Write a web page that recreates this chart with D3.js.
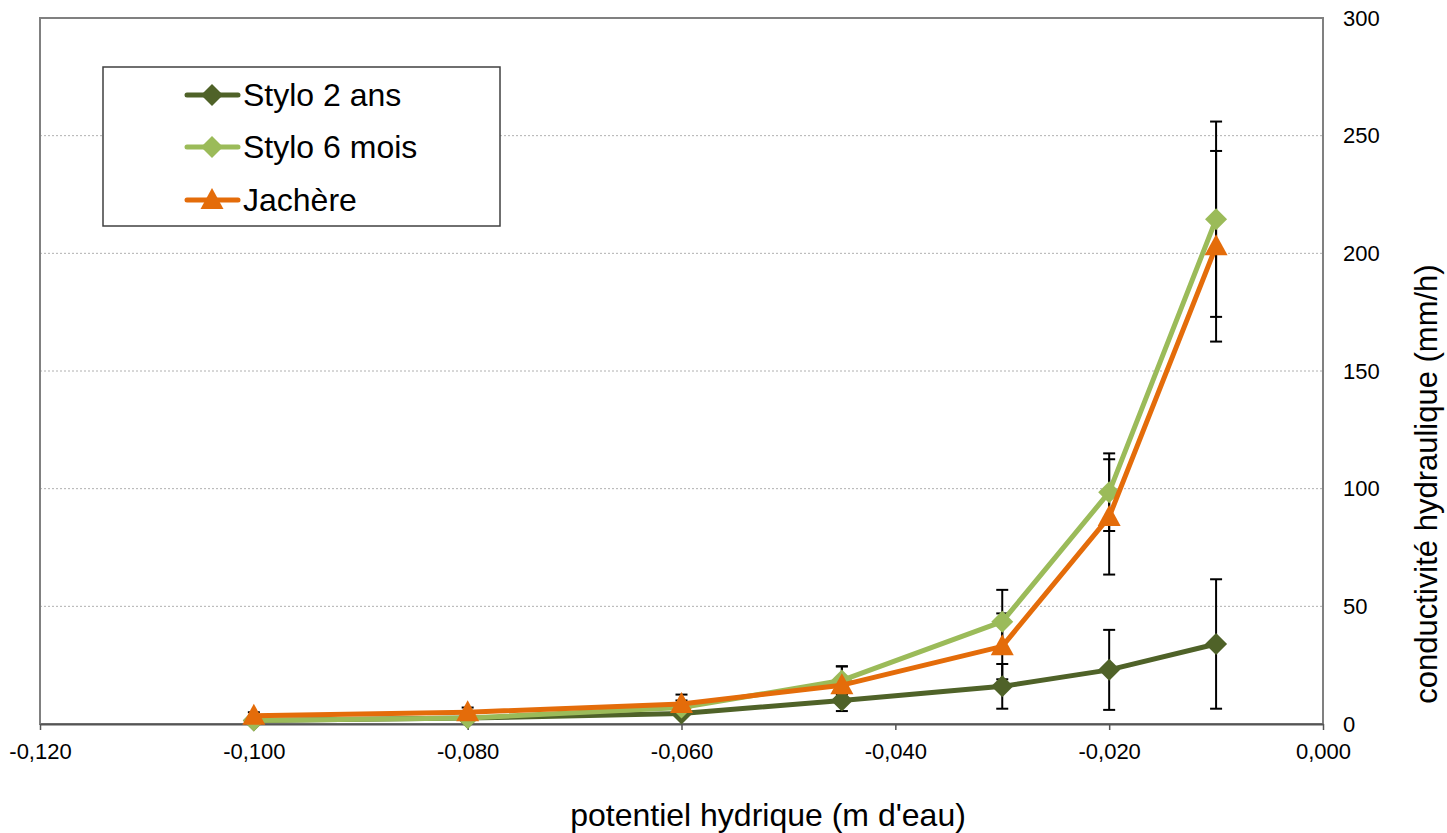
<!DOCTYPE html>
<html>
<head>
<meta charset="utf-8">
<script src="https://cdn.jsdelivr.net/npm/d3@7"></script>
<style>
  body { margin: 0; background: #fff; }
  text { font-family: "Liberation Sans", Arial, sans-serif; }
</style>
</head>
<body>
<svg id="chart"></svg>
<script>
// potentiel hydrique (m d'eau)
const xValues = [-0.100, -0.080, -0.060, -0.045, -0.030, -0.020, -0.010];
// conductivité hydraulique (mm/h) and error bar half-widths
const stylo2 = [1.5, 2.5, 4.5, 10, 16, 23, 34];
const stylo2Err = [1, 1, 1.5, 4.5, 9.5, 17, 27.5];
const stylo6 = [1.5, 2.5, 7, 18.5, 43.5, 98.5, 214.5];
const stylo6Err = [1, 1.5, 3, 6, 13.5, 16.5, 41.5];
const jachere = [3.5, 5, 8.5, 16.5, 33, 88, 203];
const jachereErr = [1.5, 2, 4, 8, 14, 24.5, 40.5];

const xTicks = [-0.12, -0.10, -0.08, -0.06, -0.04, -0.02, 0];
const yTicks = [0, 50, 100, 150, 200, 250, 300];

const width = 1447, height = 833;
const plot = { left: 40, right: 1323, top: 18, bottom: 724 };

const series = [
  { name: "Stylo 2 ans", values: stylo2, err: stylo2Err, color: "#4F6228", marker: "diamond" },
  { name: "Stylo 6 mois", values: stylo6, err: stylo6Err, color: "#9BBB59", marker: "diamond" },
  { name: "Jachère", values: jachere, err: jachereErr, color: "#E46C0A", marker: "triangle" }
];

const svg = d3.select("#chart").attr("width", width).attr("height", height);

const x = d3.scaleLinear().domain([-0.12, 0]).range([plot.left, plot.right]);
const y = d3.scaleLinear().domain([0, 300]).range([plot.bottom, plot.top]);

// gridlines
svg.append("g").selectAll("line")
  .data(yTicks.filter(d => d > 0 && d < 300))
  .enter().append("line")
  .attr("x1", plot.left).attr("x2", plot.right)
  .attr("y1", d => y(d)).attr("y2", d => y(d))
  .attr("stroke", "#b0b0b0").attr("stroke-width", 1)
  .attr("stroke-dasharray", "2,2");

// plot frame
svg.append("rect")
  .attr("x", plot.left).attr("y", plot.top)
  .attr("width", plot.right - plot.left).attr("height", plot.bottom - plot.top)
  .attr("fill", "none").attr("stroke", "#808080").attr("stroke-width", 2);

// x axis
const fmt = d3.format(".3f");
const xAxis = svg.append("g")
  .attr("transform", `translate(0, ${plot.bottom})`)
  .call(d3.axisBottom(x).tickValues(xTicks).tickSize(6).tickSizeOuter(0).tickPadding(13)
    .tickFormat(d => fmt(d).replace(".", ",").replace("−", "-")));
xAxis.select(".domain").attr("stroke", "#555").attr("stroke-width", 2);
xAxis.selectAll(".tick line").attr("stroke", "#555").attr("stroke-width", 1.5);
xAxis.selectAll(".tick text").attr("font-size", 22).attr("fill", "#000")
  .style("font-family", "'Liberation Sans', Arial, sans-serif");

// y axis on the right
const yAxis = svg.append("g")
  .attr("transform", `translate(${plot.right}, 0)`)
  .call(d3.axisRight(y).tickValues(yTicks).tickSize(0).tickPadding(20));
yAxis.select(".domain").remove();
yAxis.selectAll(".tick text").attr("font-size", 22).attr("fill", "#000")
  .style("font-family", "'Liberation Sans', Arial, sans-serif");

// error bars
const cap = 6;
series.forEach(s => {
  const g = svg.append("g").attr("stroke", "#000").attr("stroke-width", 2);
  xValues.forEach((xv, i) => {
    const hi = y(s.values[i] + s.err[i]);
    const lo = y(Math.max(0, s.values[i] - s.err[i]));
    const cx = x(xv);
    g.append("line").attr("x1", cx).attr("x2", cx).attr("y1", hi).attr("y2", lo);
    g.append("line").attr("x1", cx - cap).attr("x2", cx + cap).attr("y1", hi).attr("y2", hi);
    g.append("line").attr("x1", cx - cap).attr("x2", cx + cap).attr("y1", lo).attr("y2", lo);
  });
});

const markerPath = (type) => type === "diamond"
  ? "M0,-11L11,0L0,11L-11,0Z"
  : "M0,-12L11.5,9L-11.5,9Z";

const line = d3.line().x(d => x(d[0])).y(d => y(d[1]));

// lines and markers
series.forEach(s => {
  const pts = xValues.map((xv, i) => [xv, s.values[i]]);
  svg.append("path")
    .datum(pts)
    .attr("d", line)
    .attr("fill", "none")
    .attr("stroke", s.color)
    .attr("stroke-width", 5)
    .attr("stroke-linejoin", "round");
  svg.append("g").selectAll("path")
    .data(pts)
    .enter().append("path")
    .attr("d", markerPath(s.marker))
    .attr("transform", d => `translate(${x(d[0])}, ${y(d[1])})`)
    .attr("fill", s.color);
});

// legend
const legend = svg.append("g");
legend.append("rect")
  .attr("x", 103).attr("y", 67).attr("width", 397).attr("height", 159)
  .attr("fill", "#fff").attr("stroke", "#404040").attr("stroke-width", 1.5);
const legendY = [95, 147, 200];
series.forEach((s, i) => {
  const ly = legendY[i];
  legend.append("line")
    .attr("x1", 187).attr("x2", 238).attr("y1", ly).attr("y2", ly)
    .attr("stroke", s.color).attr("stroke-width", 5).attr("stroke-linecap", "round");
  legend.append("path")
    .attr("d", markerPath(s.marker))
    .attr("transform", `translate(212, ${ly})`)
    .attr("fill", s.color);
  legend.append("text")
    .attr("x", 243).attr("y", ly)
    .attr("dy", "0.35em")
    .attr("font-size", 32)
    .text(s.name);
});

// axis titles
svg.append("text")
  .attr("x", 768)
  .attr("y", 826)
  .attr("text-anchor", "middle")
  .attr("font-size", 32)
  .text("potentiel hydrique (m d'eau)");

svg.append("text")
  .attr("transform", "translate(1437, 484) rotate(-90)")
  .attr("text-anchor", "middle")
  .attr("font-size", 31)
  .text("conductivité hydraulique (mm/h)");
</script>
</body>
</html>
